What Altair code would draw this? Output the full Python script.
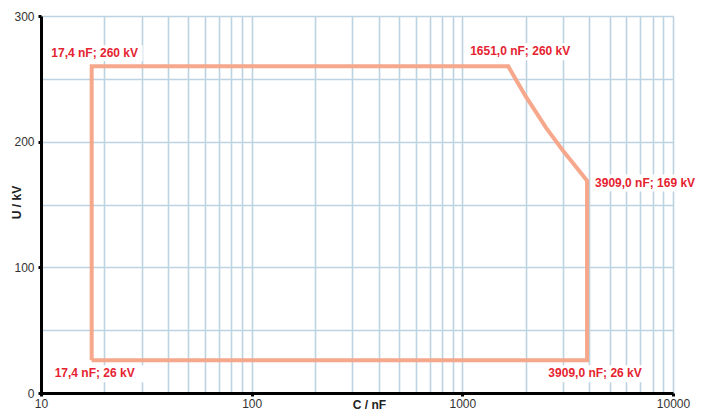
import altair as alt
import pandas as pd

# Envelope (C in nF, U in kV)
C = [17.4, 17.4, 1651.0, 2000.0, 2500.0, 3000.0, 3500.0, 3909.0, 3909.0, 17.4]
U = [26, 260, 260, 236, 211, 193, 179, 169, 26, 26]

label_text = ["17,4 nF; 260 kV", "1651,0 nF; 260 kV", "3909,0 nF; 169 kV",
              "17,4 nF; 26 kV", "3909,0 nF; 26 kV"]
label_C = [17.4, 1651.0, 3909.0, 17.4, 3909.0]
label_U = [260, 260, 169, 26, 26]

x_ticks = [10, 20, 30, 40, 50, 60, 70, 80, 90,
           100, 200, 300, 400, 500, 600, 700, 800, 900,
           1000, 2000, 3000, 4000, 5000, 6000, 7000, 8000, 9000, 10000]
x_labels = [10, 100, 1000, 10000]
y_ticks = [0, 50, 100, 150, 200, 250, 300]

line_df = pd.DataFrame({"C": C, "U": U, "i": list(range(len(C)))})

FONT = "Liberation Sans"
GRID = "#BDD3E2"
RED = "#E52330"

xscale = alt.Scale(type="log", domain=[10, 10000], nice=False)
yscale = alt.Scale(domain=[0, 300], nice=False, zero=False)

x_axis = alt.Axis(
    values=x_ticks,
    labelExpr="indexof([10,100,1000,10000], datum.value) >= 0 ? format(datum.value, 'd') : ''",
    labelFlush=False, labelOverlap=False,
    labelFont=FONT, labelFontSize=12, labelColor="#333333", labelPadding=2,
    tickSize=3, tickWidth=3,
    tickColor={"condition": {"test": "indexof([10,100,1000,10000], datum.value) >= 0", "value": "black"},
               "value": "transparent"},
    domainColor="black", domainWidth=3,
    grid=True, gridColor=GRID, gridWidth=1.6,
    title="C / nF", titleFont=FONT, titleFontSize=12, titleFontWeight="bold",
    titleColor="#222222", titleX=328, titleY=11, titleBaseline="middle", titleAlign="center",
)
y_axis = alt.Axis(
    values=y_ticks,
    labelExpr="datum.value % 100 == 0 ? datum.label : ''",
    labelFlush=False, labelOverlap=False,
    labelFont=FONT, labelFontSize=12, labelColor="#333333", labelPadding=4,
    tickSize=3, tickWidth=3,
    tickColor={"condition": {"test": "datum.value % 100 == 0", "value": "black"},
               "value": "transparent"},
    domainColor="black", domainWidth=3,
    grid=True, gridColor=GRID, gridWidth=1.6,
    title="U / kV", titleFont=FONT, titleFontSize=12, titleFontWeight="bold",
    titleColor="#222222", titleX=-25, titleY=186, titleBaseline="middle", titleAlign="center",
)

X = alt.X("C:Q", scale=xscale, axis=x_axis)
Y = alt.Y("U:Q", scale=yscale, axis=y_axis)

line = alt.Chart(line_df).mark_line(color="#F5A386", strokeWidth=4, opacity=0.95).encode(
    x=X, y=Y, order="i:Q",
)

# layout offsets per label: text dx, dy, box x0, x1, y0, y1 (pixels from the corner)
offsets = [
    (3, -13, -44, 51, -21, -5),
    (12, -15, -41, 65, -23, -6),
    (58, 2, 6, 111, -6, 11),
    (3, 13, -40, 56, 5, 22),
    (8, 13, -42, 58, 5, 22),
]

layers = [line]
for k in range(len(label_text)):
    d = pd.DataFrame({"C": [label_C[k]], "U": [label_U[k]], "t": [label_text[k]]})
    dx, dy, x0, x1, y0, y1 = offsets[k]
    box = alt.Chart(d).mark_rect(color="white", opacity=1, width=x1 - x0, height=y1 - y0,
                                 xOffset=(x0 + x1) / 2, yOffset=(y0 + y1) / 2).encode(
        x=X, y=Y,
    )
    txt = alt.Chart(d).mark_text(color=RED, font=FONT, fontSize=12, fontWeight="bold",
                                 dx=dx, dy=dy, align="center", baseline="middle").encode(
        x=X, y=Y, text="t:N",
    )
    layers += [box, txt]

chart = alt.layer(*layers).properties(
    width=632, height=377,
    autosize=alt.AutoSizeParams(type="none"),
    padding={"left": 33, "top": 8, "right": 34, "bottom": 17},
).configure_view(strokeWidth=0).configure(background="white")

chart.save("out.html", embed_options={"renderer": "svg", "actions": False})
